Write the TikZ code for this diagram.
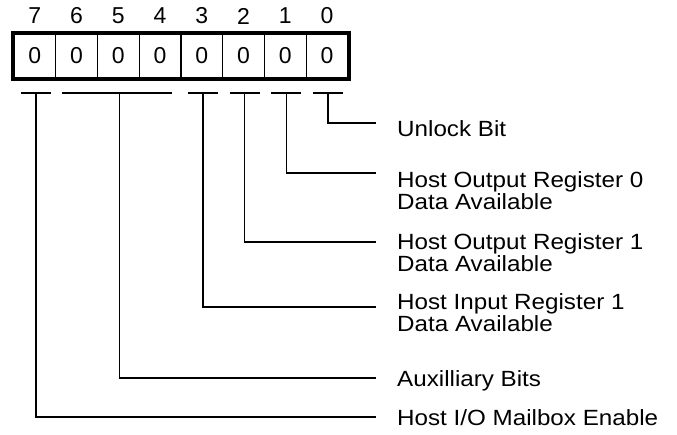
\documentclass[tikz,border=0pt]{standalone}
\usepackage{fontspec}
\setmainfont{Liberation Sans}
\newfontfamily\lblfont[FakeStretch=1.1]{Liberation Sans}
\usepackage{tikz}
\usetikzlibrary{calc,positioning}
\tikzset{
  cell/.style={draw,line width=1.4pt,minimum width=41.75pt,minimum height=44pt,inner sep=0pt,font=\fontsize{23}{23}\selectfont},
  bitno/.style={inner sep=0pt,font=\fontsize{23}{23}\selectfont},
  lbl/.style={anchor=base west,inner sep=0pt,align=left,font=\lblfont\fontsize{22}{20.5}\selectfont},
  ln/.style={line width=1.6pt}
}
\begin{document}
\begin{tikzpicture}[x=1pt,y=-1pt]
\useasboundingbox (0,0) rectangle (677,434);
% register cells and bit numbers
\foreach \b [count=\i from 0] in {7,6,5,4,3,2,1,0} {
  \node[cell] (c\b) at ({14+41.75*(\i+0.5)},56) {0};
  \node[bitno] (n\b) at ({14+41.75*(\i+0.5)},16) {\b};
}
\draw[line width=4pt] (c7.north west) rectangle (c0.south east);
% bars under the cells
\foreach \b in {7,3,2,1,0} {
  \coordinate (t\b) at ($(c\b.center)+(1,37)$);
  \draw[ln] ($(t\b)+(-15,0)$) -- ($(t\b)+(15,0)$);
}
\coordinate (t5) at ($(c5.center)+(1,37)$);
\draw[ln] ($(c6.center)+(-15,37)$) -- ($(c4.center)+(12,37)$);
% labels
\node[lbl] (l0) at (397,136) {Unlock Bit};
\node[lbl] (l1) at (397,209) {Host Output Register 0\\Data Available};
\node[lbl] (l2) at (397,271) {Host Output Register 1\\Data Available};
\node[lbl] (l3) at (397,331) {Host Input Register 1\\Data Available};
\node[lbl] (l5) at (397,386) {Auxilliary Bits};
\node[lbl] (l7) at (397,425) {Host I/O Mailbox Enable};
% line ends
\coordinate (e0) at (376,123);
\coordinate (e1) at (376,173);
\coordinate (e2) at (376,242);
\coordinate (e3) at (376,307);
\coordinate (e5) at (376,378);
\coordinate (e7) at (376,417);
\foreach \b in {0,1,2,3,5,7}
  \draw[ln] (t\b) |- (e\b);
\end{tikzpicture}
\end{document}
